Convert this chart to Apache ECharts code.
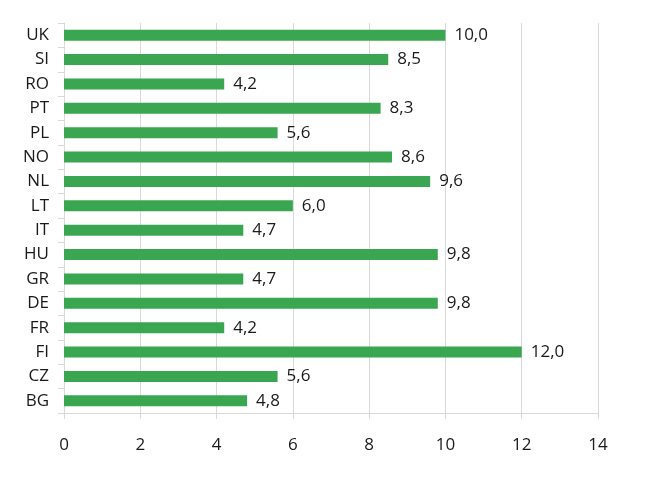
<!DOCTYPE html>
<html>
<head>
<meta charset="utf-8">
<script src="https://cdn.jsdelivr.net/npm/echarts@6/dist/echarts.min.js"></script>
<style>html,body{margin:0;padding:0;background:#fff}#c{width:645px;height:479px}</style>
</head>
<body>
<div id="c"></div>
<script>
var categories = ['BG','CZ','FI','FR','DE','GR','HU','IT','LT','NL','NO','PL','PT','RO','SI','UK'];
var values = [4.8,5.6,12.0,4.2,9.8,4.7,9.8,4.7,6.0,9.6,8.6,5.6,8.3,4.2,8.5,10.0];
var xTicks = {min:0, max:14, interval:2};

var chart = echarts.init(document.getElementById('c'), null, {renderer:'canvas'});
var font = '"Open Sans", "Noto Sans", sans-serif';
chart.setOption({
  animation:false,
  backgroundColor:'#fff',
  grid:{left:64, right:47, top:23, bottom:66, containLabel:false},
  xAxis:{
    type:'value', min:xTicks.min, max:xTicks.max, interval:xTicks.interval,
    axisLine:{show:true, lineStyle:{color:'#d9d9d9', width:1}},
    axisTick:{show:true, length:6, lineStyle:{color:'#d9d9d9'}},
    splitLine:{show:true, lineStyle:{color:'#d9d9d9', width:1}},
    axisLabel:{color:'#1a1a1a', fontSize:17, fontFamily:font, margin:24}
  },
  yAxis:{
    type:'category', data:categories,
    axisLine:{show:true, lineStyle:{color:'#d9d9d9', width:1}},
    axisTick:{show:true, length:6, alignWithLabel:false, lineStyle:{color:'#d9d9d9'}},
    axisLabel:{color:'#1a1a1a', fontSize:17, fontFamily:font, margin:15}
  },
  series:[{
    type:'bar', data:values, barWidth:11,
    itemStyle:{color:'#3ba651'},
    label:{show:true, position:'right', distance:9, color:'#1a1a1a', fontSize:17, fontFamily:font,
      formatter:function(p){return p.value.toFixed(1).replace('.', ',');}}
  }]
});
</script>
</body>
</html>
